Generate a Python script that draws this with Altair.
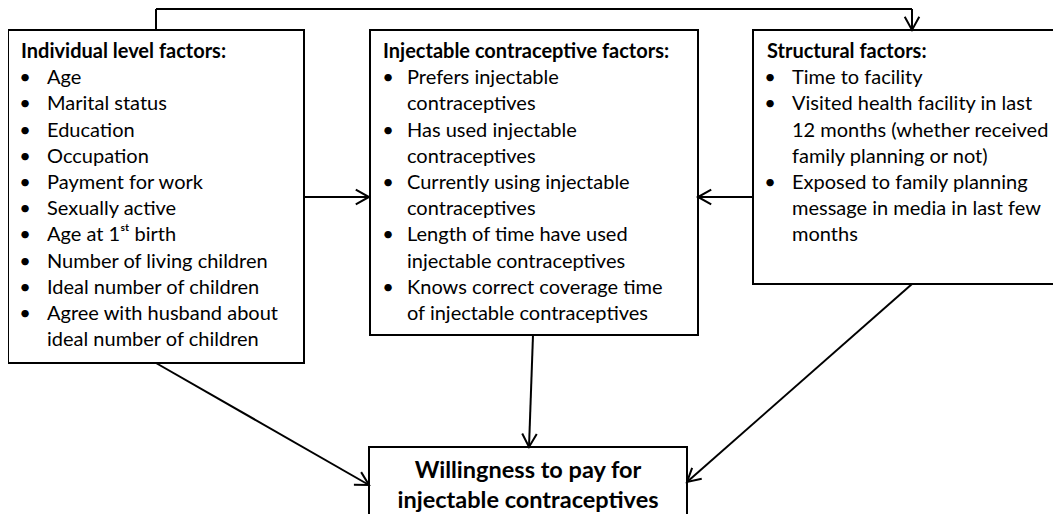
import altair as alt
import pandas as pd
import numpy as np

# ---------------- diagram content ----------------
titles = ["Individual level factors:", "Injectable contraceptive factors:", "Structural factors:"]

individual_items = [
    ["Age"], ["Marital status"], ["Education"], ["Occupation"], ["Payment for work"],
    ["Sexually active"], ["Age at 1\u02e2\u1d57 birth"], ["Number of living children"],
    ["Ideal number of children"], ["Agree with husband about", "ideal number of children"],
]
injectable_items = [
    ["Prefers injectable", "contraceptives"],
    ["Has used injectable", "contraceptives"],
    ["Currently using injectable", "contraceptives"],
    ["Length of time have used", "injectable contraceptives"],
    ["Knows correct coverage time", "of injectable contraceptives"],
]
structural_items = [
    ["Time to facility"],
    ["Visited health facility in last", "12 months (whether received", "family planning or not)"],
    ["Exposed to family planning", "message in media in last few", "months"],
]
outcome_lines = ["Willingness to pay for", "injectable contraceptives"]

# ---------------- layout (reference pixel coordinates) ----------------
box_x1 = [8, 370, 753, 369]
box_x2 = [304, 698, 1062, 687]
box_y1 = [30, 30, 30, 447]
box_y2 = [363, 335, 284, 530]

title_x = [21, 383, 767]
bullet_x = [25, 388, 770]
item_x = [47, 407, 792]
first_baseline = 58
line_step = 26.2

outcome_x = 528
outcome_baseline = [478, 508]

conn_x1 = [156, 156, 912, 304, 753, 533, 156, 912]
conn_y1 = [30, 9, 9, 197, 197, 335, 363, 284]
conn_x2 = [156, 912, 912, 369, 698, 529, 369, 687]
conn_y2 = [9, 9, 30, 197, 197, 447, 485, 482]
conn_head = [False, False, True, True, True, True, True, True]

# ---------------- build tables ----------------
boxes = pd.DataFrame({"x": box_x1, "x2": box_x2, "y": box_y1, "y2": box_y2})

text_rows = []
bullet_rows = []
for b, items in enumerate([individual_items, injectable_items, structural_items]):
    text_rows.append({"x": title_x[b], "y": first_baseline, "t": titles[b], "kind": "title"})
    k = 1
    for item in items:
        bullet_rows.append({"x": bullet_x[b], "y": first_baseline + k * line_step, "t": "\u2022"})
        for line in item:
            text_rows.append({"x": item_x[b], "y": first_baseline + k * line_step, "t": line, "kind": "item"})
            k += 1
texts = pd.DataFrame(text_rows)
bullets = pd.DataFrame(bullet_rows)
titles_df = texts[texts.kind == "title"]
items_df = texts[texts.kind == "item"]
outcome = pd.DataFrame({"x": [outcome_x] * 2, "y": outcome_baseline, "t": outcome_lines})

conns = pd.DataFrame({"x": conn_x1, "y": conn_y1, "x2": conn_x2, "y2": conn_y2, "head": conn_head})
heads = conns[conns["head"]].copy()
heads["angle"] = (np.degrees(np.arctan2(heads["y2"] - heads["y"], heads["x2"] - heads["x"])) + 360) % 360

# ---------------- scales ----------------
W, H = 1045, 506
xs = alt.Scale(domain=[8, 8 + W], range=[0, W])
ys = alt.Scale(domain=[8, 8 + H], range=[0, H])
X = lambda f: alt.X(f, type="quantitative", scale=xs, axis=None)
Y = lambda f: alt.Y(f, type="quantitative", scale=ys, axis=None)

FONT = "Lato"
FS = 20

box_layer = alt.Chart(boxes).mark_rect(fill="white", stroke="black", strokeWidth=2).encode(
    x=X("x"), x2="x2", y=Y("y"), y2="y2")

conn_layer = alt.Chart(conns).mark_rule(color="black", strokeWidth=2).encode(
    x=X("x"), x2="x2", y=Y("y"), y2="y2")

head_layer = alt.Chart(heads).mark_point(
    shape="M-1,-0.55L0,0L-1,0.55", filled=False, stroke="black", strokeWidth=2,
    size=700, opacity=1,
).encode(x=X("x2"), y=Y("y2"), angle=alt.Angle("angle:Q", scale=None))

title_layer = alt.Chart(titles_df).mark_text(
    align="left", baseline="alphabetic", font=FONT, fontSize=FS, fontWeight="bold", color="black"
).encode(x=X("x"), y=Y("y"), text="t:N")

item_layer = alt.Chart(items_df).mark_text(
    align="left", baseline="alphabetic", font=FONT, fontSize=FS, color="black"
).encode(x=X("x"), y=Y("y"), text="t:N")

bullet_layer = alt.Chart(bullets).mark_text(
    align="center", baseline="alphabetic", font=FONT, fontSize=FS, color="black"
).encode(x=X("x"), y=Y("y"), text="t:N")

outcome_layer = alt.Chart(outcome).mark_text(
    align="center", baseline="alphabetic", font=FONT, fontSize=23.5, fontWeight="bold", color="black"
).encode(x=X("x"), y=Y("y"), text="t:N")

chart = alt.layer(
    box_layer, conn_layer, head_layer, title_layer, item_layer, bullet_layer, outcome_layer
).properties(
    width=W, height=H, padding=0, autosize=alt.AutoSizeParams(type="none"), background="white"
).configure_view(stroke=None)

chart.save("out.html", embed_options={"renderer": "svg", "actions": False})
